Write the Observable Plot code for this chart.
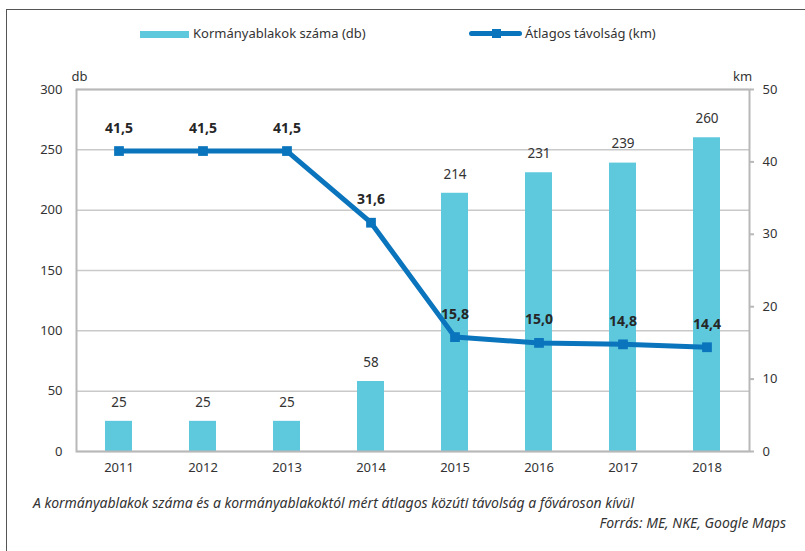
<!DOCTYPE html>
<html>
<head>
<meta charset="utf-8">
<script src="https://cdn.jsdelivr.net/npm/d3@7"></script>
<script src="https://cdn.jsdelivr.net/npm/@observablehq/plot@0.6"></script>
<style>
  html, body { margin: 0; padding: 0; background: #fff; width: 805px; height: 551px; overflow: hidden; font-family: "Noto Sans", sans-serif; color: #333; }
  #border { position: absolute; left: 6px; top: 9px; width: 900px; height: 700px; border: 1.5px solid #555; box-sizing: border-box; }
  .leg { position: absolute; font-size: 13px; line-height: 16px; color: #333; white-space: nowrap; }
  #chart { position: absolute; left: 0; top: 50px; }
  .cap { position: absolute; font-size: 14px; line-height: 18px; font-style: italic; color: #333; white-space: nowrap; }
</style>
</head>
<body>
<div id="border"></div>
<div style="position:absolute;left:140px;top:31px;width:49px;height:7px;background:#5ec8dc"></div>
<div class="leg" style="left:193px;top:25px">Kormányablakok száma (db)</div>
<div style="position:absolute;left:469px;top:31px;width:53px;height:5px;background:#0a74bd;border-radius:3px"></div>
<div style="position:absolute;left:492px;top:29px;width:9px;height:9px;background:#0a74bd"></div>
<div class="leg" style="left:525px;top:25px">Átlagos távolság (km)</div>
<div id="chart"></div>
<div class="cap" style="left:33px;top:494px">A kormányablakok száma és a kormányablakoktól mért átlagos közúti távolság a fővároson kívül</div>
<div class="cap" style="right:19px;top:514px">Forrás: ME, NKE, Google Maps</div>
<script>
const years = ["2011","2012","2013","2014","2015","2016","2017","2018"];
const offices = [25, 25, 25, 58, 214, 231, 239, 260];
const distance = [41.5, 41.5, 41.5, 31.6, 15.8, 15.0, 14.8, 14.4];
const leftTicks = [0, 50, 100, 150, 200, 250, 300];
const rightTicks = [0, 10, 20, 30, 40, 50];

const k = 300 / 50; // right axis km -> left axis db units
const data = years.map((y, i) => ({year: y, db: offices[i], km: distance[i]}));
const fmt = v => v.toFixed(1).replace(".", ",");

const plot = Plot.plot({
  width: 805,
  height: 435,
  marginLeft: 76,
  marginRight: 56,
  marginTop: 39,
  marginBottom: 34,
  style: {fontFamily: "Noto Sans, sans-serif", fontSize: "13px", color: "#333", background: "transparent"},
  x: {domain: years, paddingInner: 0.68, paddingOuter: 0.34, label: null},
  y: {domain: [0, 300], label: null},
  marks: [
    Plot.gridY(leftTicks, {stroke: "#c9c9c9", strokeOpacity: 1, strokeWidth: 1.5}),
    Plot.barY(data, {x: "year", y: "db", fill: "#5ec8dc"}),
    Plot.frame({stroke: "#b8b8b8", strokeWidth: 2}),
    Plot.axisY(leftTicks, {anchor: "left", tickSize: 0, tickPadding: 14, label: null, fontSize: 13}),
    Plot.axisY(rightTicks.map(d => d * k), {anchor: "right", tickSize: 4, tickPadding: 9, tickFormat: d => d / k, label: null, stroke: "#b8b8b8", strokeWidth: 2, fontSize: 13}),
    Plot.axisX({tickSize: 0, tickPadding: 11, label: null, fontSize: 13}),
    Plot.text(["db"], {frameAnchor: "top-left", text: d => d, dx: 3, dy: -18, textAnchor: "middle", fontSize: 13, fill: "#333"}),
    Plot.text(["km"], {frameAnchor: "top-right", text: d => d, dx: -7, dy: -18, textAnchor: "middle", fontSize: 13, fill: "#333"}),
    Plot.text(data, {x: "year", y: "db", text: d => String(d.db), dy: -19, fontSize: 13.5, fill: "#333"}),
    Plot.line(data, {x: "year", y: d => d.km * k, stroke: "#0a74bd", strokeWidth: 5, strokeLinejoin: "miter"}),
    Plot.dot(data, {x: "year", y: d => d.km * k, symbol: "square", r: 5.5, fill: "#0a74bd", stroke: "none"}),
    Plot.text(data, {x: "year", y: d => d.km * k, text: d => fmt(d.km), dy: -23, fontSize: 14, fontWeight: "bold", fill: "#262626"})
  ]
});
document.getElementById("chart").appendChild(plot);
</script>
</body>
</html>
